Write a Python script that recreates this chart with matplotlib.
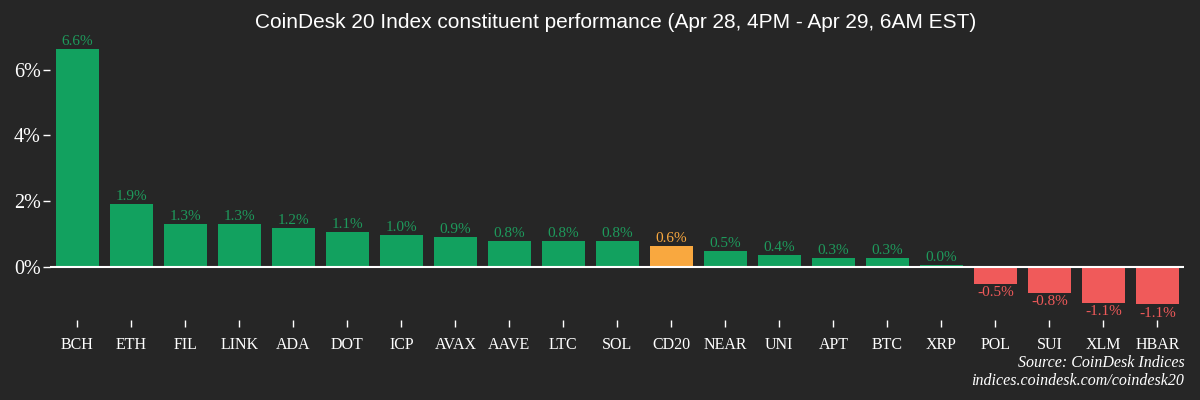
import matplotlib
matplotlib.use('Agg')
import matplotlib.pyplot as plt
import numpy as np

# data
coins = ['BCH', 'ETH', 'FIL', 'LINK', 'ADA', 'DOT', 'ICP', 'AVAX', 'AAVE', 'LTC', 'SOL',
         'CD20', 'NEAR', 'UNI', 'APT', 'BTC', 'XRP', 'POL', 'SUI', 'XLM', 'HBAR']
perf = [6.62, 1.92, 1.31, 1.29, 1.17, 1.07, 0.96, 0.92, 0.78, 0.77, 0.77,
        0.62, 0.47, 0.37, 0.26, 0.26, 0.04, -0.52, -0.79, -1.09, -1.13]

bg = '#262626'
green = '#12a15f'
green_txt = '#1e9a5c'
orange = '#f9a83f'
red = '#f05a5a'

fig = plt.figure(figsize=(12, 4), dpi=100, facecolor=bg)
ax = fig.add_axes([0.042, 0.2, 0.945, 0.7])
ax.set_facecolor(bg)

x = np.arange(len(coins))
cols = []
for c, v in zip(coins, perf):
    if c == 'CD20':
        cols.append(orange)
    elif v >= 0:
        cols.append(green)
    else:
        cols.append(red)
ax.bar(x, perf, width=0.8, color=cols, zorder=2)

serif = ['Liberation Serif', 'DejaVu Serif']
for xi, v, col in zip(x, perf, cols):
    tc = green_txt if col == green else col
    if v >= 0:
        ax.text(xi, v + 0.03, f'{v:.1f}%', ha='center', va='bottom', color=tc,
                fontsize=11, family=serif)
    else:
        ax.text(xi, v - 0.08, f'{v:.1f}%', ha='center', va='top', color=tc,
                fontsize=11, family=serif)

ax.axhline(-0.02, color='white', lw=1.5, zorder=3)
ax.set_xlim(-0.5, len(coins) - 0.5)
ax.set_ylim(-1.62, 6.9)
ax.set_yticks([0, 2, 4, 6])
ax.set_yticklabels(['0%', '2%', '4%', '6%'], family=serif, fontsize=14.5, color='white')
ax.set_xticks(x)
ax.set_xticklabels(coins, family=serif, fontsize=11.5, color='white')
ax.tick_params(axis='y', colors='white', length=5, width=1, pad=2)
ax.tick_params(axis='x', colors='white', length=5, width=1, pad=7)
for s in ax.spines.values():
    s.set_visible(False)

fig.text(0.513, 0.943, 'CoinDesk 20 Index constituent performance (Apr 28, 4PM - Apr 29, 6AM EST)',
         ha='center', va='center', color='white', fontsize=15, family=['Liberation Sans', 'DejaVu Sans'])
fig.text(0.987, 0.093, 'Source: CoinDesk Indices', ha='right', va='center', color='white',
         fontsize=11.5, family=serif, style='italic')
fig.text(0.987, 0.048, 'indices.coindesk.com/coindesk20', ha='right', va='center', color='white',
         fontsize=11.5, family=serif, style='italic')

fig.savefig('out.png', dpi=100, facecolor=bg)
